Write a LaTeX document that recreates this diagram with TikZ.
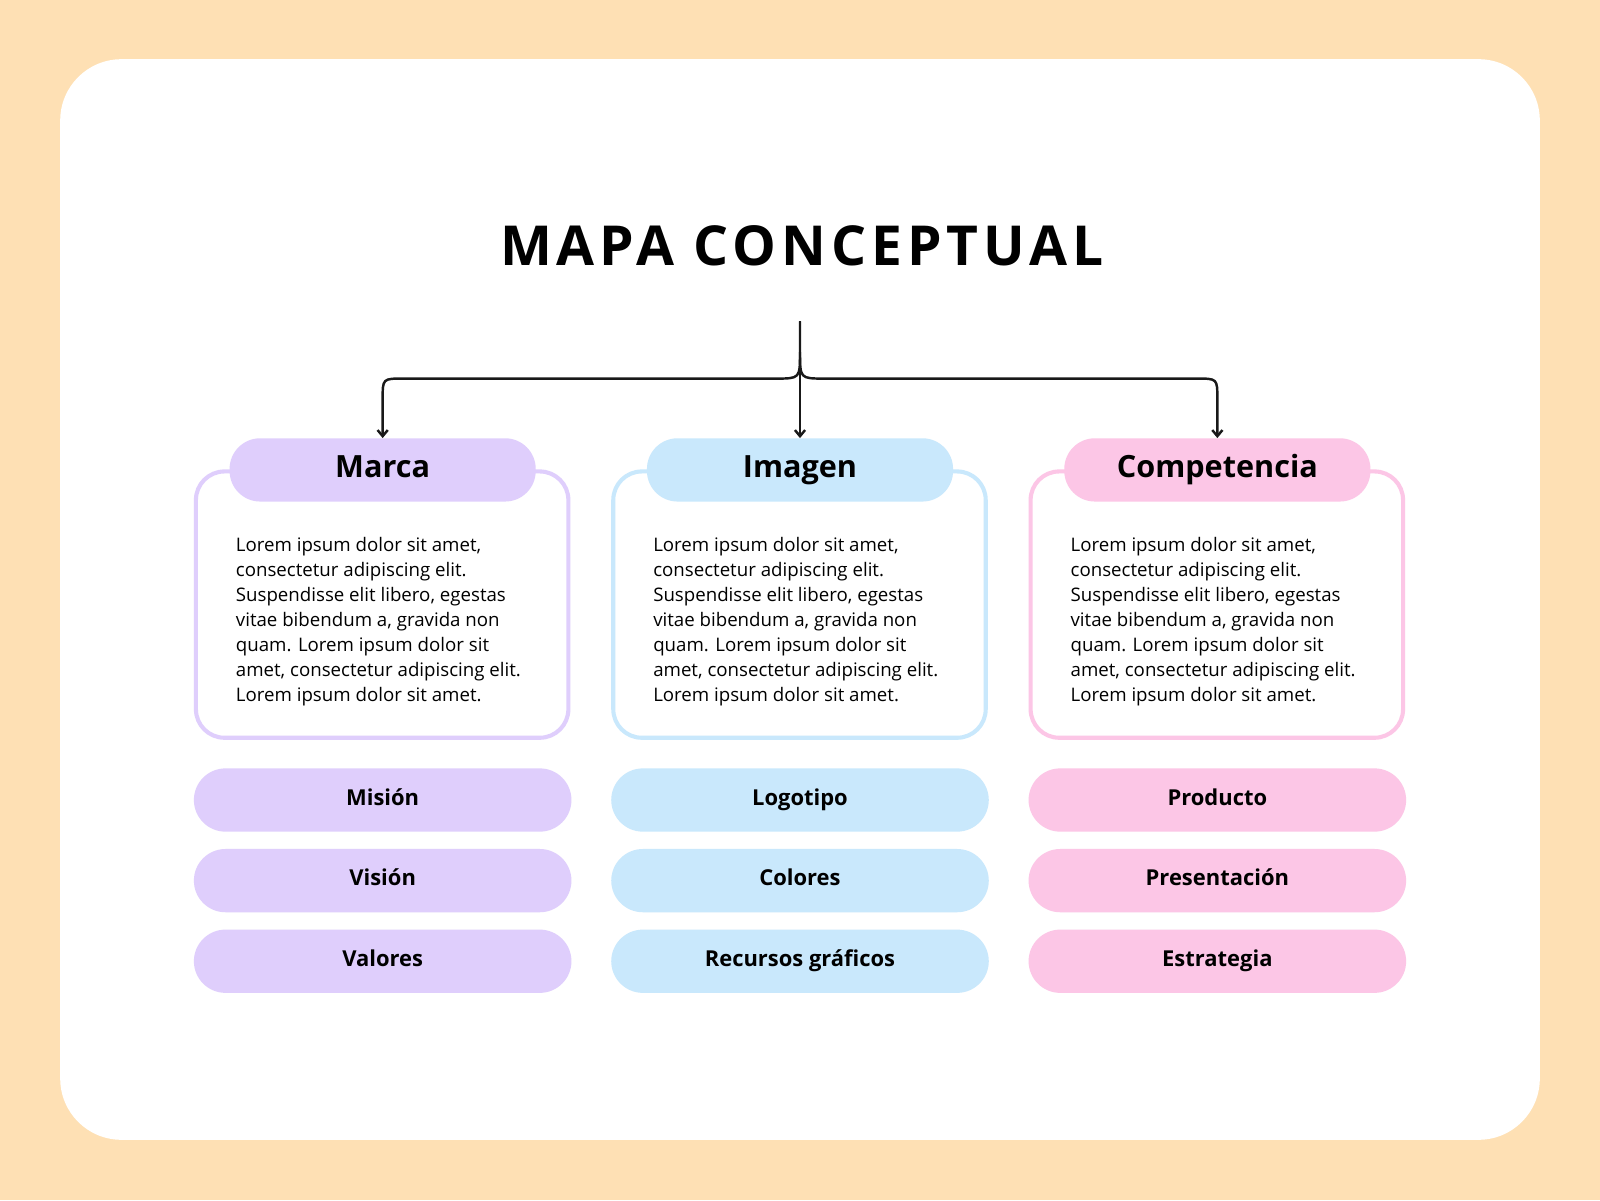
\documentclass[tikz,border=0pt]{standalone}
\usepackage{fontspec}
\setmainfont{Open Sans}
\usetikzlibrary{arrows.meta}
\definecolor{peach}{HTML}{FEE0B4}
\definecolor{lav}{HTML}{DFCEFC}
\definecolor{blu}{HTML}{C9E8FC}
\definecolor{pnk}{HTML}{FCC6E6}
\begin{document}
\begin{tikzpicture}[x=1pt,y=-1pt,
  hdr/.style={rounded corners=30pt,minimum width=300pt,minimum height=62pt,inner sep=0pt,text height=21pt,text depth=7pt,font=\fontsize{30}{34}\selectfont\bfseries},
  pill/.style={rounded corners=31pt,minimum width=370pt,minimum height=62pt,inner sep=0pt,text height=15.5pt,text depth=5pt,font=\fontsize{21.5}{25}\selectfont\bfseries},
  frame/.style={line width=4pt,rounded corners=28pt,fill=white},
  body/.style={anchor=north west,inner sep=0pt,align=left,font=\fontsize{18.3}{24.5}\selectfont},
  arr/.style={line width=2.4pt,-{Straight Barb[length=6pt,width=10pt]},color=black!90}]
\fill[peach] (0,0) rectangle (1568,1176);
\useasboundingbox (0,0) rectangle (1568,1176);
\fill[white,rounded corners=60pt] (59,58) rectangle (1509,1117);
\node[font=\fontsize{54}{60}\selectfont\bfseries\addfontfeature{LetterSpace=9}] (title) at (786,241) {MAPA CONCEPTUAL};
\coordinate (top) at (784,315);
\foreach \cx/\col/\name/\a/\b/\c/\id in {375/lav/Marca/Misión/Visión/Valores/m,784/blu/Imagen/Logotipo/Colores/Recursos gráficos/i,1193/pnk/Competencia/Producto/Presentación/Estrategia/c}{
  \draw[frame,draw=\col] (\cx-183,462) rectangle (\cx+182,723);
  \node[hdr,fill=\col] (h\id) at (\cx,460.5) {\name};
  \node[body] (t\id) at (\cx-144,526) {Lorem ipsum dolor sit amet,\\consectetur adipiscing elit.\\Suspendisse elit libero, egestas\\vitae bibendum a, gravida non\\quam. Lorem ipsum dolor sit\\amet, consectetur adipiscing elit.\\Lorem ipsum dolor sit amet.};
  \node[pill,fill=\col] (p1\id) at (\cx,784) {\a};
  \node[pill,fill=\col] (p2\id) at (\cx,863) {\b};
  \node[pill,fill=\col] (p3\id) at (\cx,942) {\c};
}
\draw[arr] (top) -- (hi.north);
\draw[arr] (top) -- (784,345) .. controls (784,371) .. (760,371) -- (395,371) .. controls (375,371) .. (375,391) -- (hm.north);
\draw[arr] (784,345) .. controls (784,371) .. (808,371) -- (1173,371) .. controls (1193,371) .. (1193,391) -- (hc.north);
\end{tikzpicture}
\end{document}
